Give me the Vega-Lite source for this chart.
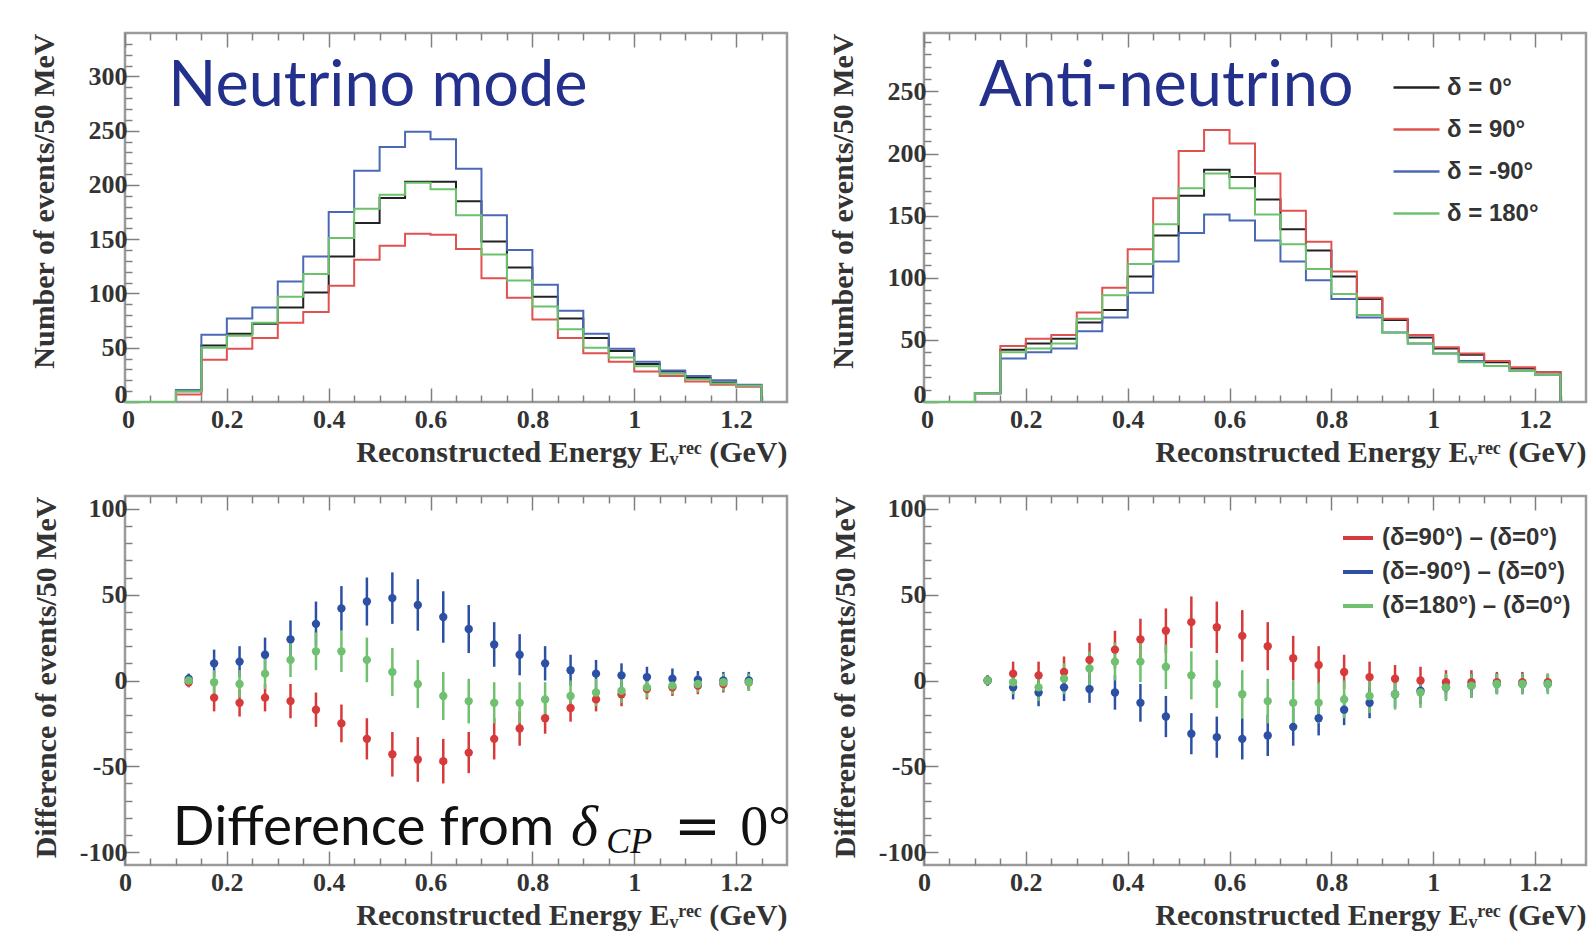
{
"$schema": "https://vega.github.io/schema/vega-lite/v6.json",
"background": "white",
"padding": {"left": 27, "top": 27, "right": 2, "bottom": 2},
"columns": 2,
"bounds": "flush",
"spacing": {"row": 94, "column": 137},
"resolve": {"scale": {"color": "independent", "fill": "independent"}, "legend": {"color": "independent", "fill": "independent"}},
"config": {
  "view": {"stroke": "#9a9a9a", "strokeWidth": 2.5},
  "axis": {"labelFont": "Liberation Serif", "labelFontWeight": "bold", "labelFontSize": 26, "labelColor": "#333", "titleFont": "Liberation Serif", "titleFontWeight": "bold", "titleFontSize": 30, "titleColor": "#333", "tickColor": "#808080", "tickWidth": 1.5, "domain": false, "grid": false, "labelFlush": false, "labelOverlap": false, "titleAnchor": "end"},
  "legend": {"labelFont": "Liberation Sans", "labelFontWeight": "bold", "labelColor": "#333", "labelLimit": 400}
},
"datasets": {
  "nu": [
    {"e":0,"d0":0,"d90":0,"dm90":0,"d180":0},
    {"e":0.05,"d0":0,"d90":0,"dm90":0,"d180":0},
    {"e":0.1,"d0":10,"d90":7,"dm90":11,"d180":10},
    {"e":0.15,"d0":52,"d90":39,"dm90":62,"d180":50},
    {"e":0.2,"d0":63,"d90":49,"dm90":77,"d180":61},
    {"e":0.25,"d0":72,"d90":59,"dm90":87,"d180":73},
    {"e":0.3,"d0":87,"d90":73,"dm90":111,"d180":97},
    {"e":0.35,"d0":101,"d90":83,"dm90":134,"d180":118},
    {"e":0.4,"d0":134,"d90":107,"dm90":175,"d180":151},
    {"e":0.45,"d0":165,"d90":131,"dm90":213,"d180":178},
    {"e":0.5,"d0":188,"d90":144,"dm90":235,"d180":191},
    {"e":0.55,"d0":203,"d90":155,"dm90":249,"d180":202},
    {"e":0.6,"d0":203,"d90":154,"dm90":242,"d180":196},
    {"e":0.65,"d0":185,"d90":141,"dm90":215,"d180":172},
    {"e":0.7,"d0":148,"d90":114,"dm90":172,"d180":136},
    {"e":0.75,"d0":124,"d90":96,"dm90":140,"d180":112},
    {"e":0.8,"d0":97,"d90":76,"dm90":108,"d180":88},
    {"e":0.85,"d0":77,"d90":59,"dm90":84,"d180":67},
    {"e":0.9,"d0":59,"d90":45,"dm90":63,"d180":50},
    {"e":0.95,"d0":47,"d90":37,"dm90":49,"d180":41},
    {"e":1,"d0":35,"d90":28,"dm90":37,"d180":33},
    {"e":1.05,"d0":28,"d90":24,"dm90":29,"d180":26},
    {"e":1.1,"d0":22,"d90":19,"dm90":24,"d180":21},
    {"e":1.15,"d0":18,"d90":16,"dm90":20,"d180":17},
    {"e":1.2,"d0":15,"d90":14,"dm90":16,"d180":15},
    {"e":1.25,"d0":0,"d90":0,"dm90":0,"d180":0}
  ],
  "anu": [
    {"e":0,"d0":0,"d90":0,"dm90":0,"d180":0},
    {"e":0.05,"d0":0,"d90":0,"dm90":0,"d180":0},
    {"e":0.1,"d0":7,"d90":7,"dm90":7,"d180":7},
    {"e":0.15,"d0":42,"d90":45,"dm90":35,"d180":40},
    {"e":0.2,"d0":47,"d90":51,"dm90":40,"d180":43},
    {"e":0.25,"d0":51,"d90":54,"dm90":43,"d180":47},
    {"e":0.3,"d0":64,"d90":72,"dm90":57,"d180":67},
    {"e":0.35,"d0":74,"d90":92,"dm90":68,"d180":86},
    {"e":0.4,"d0":101,"d90":123,"dm90":88,"d180":111},
    {"e":0.45,"d0":134,"d90":164,"dm90":113,"d180":143},
    {"e":0.5,"d0":166,"d90":202,"dm90":136,"d180":172},
    {"e":0.55,"d0":187,"d90":219,"dm90":151,"d180":184},
    {"e":0.6,"d0":181,"d90":208,"dm90":146,"d180":172},
    {"e":0.65,"d0":163,"d90":184,"dm90":130,"d180":151},
    {"e":0.7,"d0":139,"d90":154,"dm90":113,"d180":127},
    {"e":0.75,"d0":122,"d90":129,"dm90":98,"d180":107},
    {"e":0.8,"d0":101,"d90":105,"dm90":83,"d180":87},
    {"e":0.85,"d0":83,"d90":84,"dm90":68,"d180":70},
    {"e":0.9,"d0":66,"d90":67,"dm90":56,"d180":56},
    {"e":0.95,"d0":52,"d90":54,"dm90":47,"d180":47},
    {"e":1,"d0":43,"d90":44,"dm90":39,"d180":39},
    {"e":1.05,"d0":38,"d90":39,"dm90":33,"d180":32},
    {"e":1.1,"d0":32,"d90":33,"dm90":29,"d180":29},
    {"e":1.15,"d0":27,"d90":28,"dm90":25,"d180":25},
    {"e":1.2,"d0":24,"d90":24,"dm90":22,"d180":22},
    {"e":1.25,"d0":0,"d90":0,"dm90":0,"d180":0}
  ],
  "dnu": [
    {"e":0.125,"s":"r","v":-1,"err":3},{"e":0.125,"s":"b","v":1,"err":3},{"e":0.125,"s":"g","v":0,"err":3},
    {"e":0.175,"s":"r","v":-10,"err":8},{"e":0.175,"s":"b","v":10,"err":8},{"e":0.175,"s":"g","v":-1,"err":7},
    {"e":0.225,"s":"r","v":-13,"err":8},{"e":0.225,"s":"b","v":11,"err":9},{"e":0.225,"s":"g","v":-2,"err":8},
    {"e":0.275,"s":"r","v":-10,"err":8},{"e":0.275,"s":"b","v":15,"err":10},{"e":0.275,"s":"g","v":4,"err":9},
    {"e":0.325,"s":"r","v":-12,"err":10},{"e":0.325,"s":"b","v":24,"err":11},{"e":0.325,"s":"g","v":12,"err":10},
    {"e":0.375,"s":"r","v":-17,"err":10},{"e":0.375,"s":"b","v":33,"err":13},{"e":0.375,"s":"g","v":17,"err":11},
    {"e":0.425,"s":"r","v":-25,"err":11},{"e":0.425,"s":"b","v":42,"err":13},{"e":0.425,"s":"g","v":17,"err":12},
    {"e":0.475,"s":"r","v":-34,"err":12},{"e":0.475,"s":"b","v":46,"err":14},{"e":0.475,"s":"g","v":12,"err":13},
    {"e":0.525,"s":"r","v":-43,"err":13},{"e":0.525,"s":"b","v":48,"err":15},{"e":0.525,"s":"g","v":5,"err":14},
    {"e":0.575,"s":"r","v":-46,"err":13},{"e":0.575,"s":"b","v":44,"err":15},{"e":0.575,"s":"g","v":-2,"err":14},
    {"e":0.625,"s":"r","v":-47,"err":13},{"e":0.625,"s":"b","v":37,"err":15},{"e":0.625,"s":"g","v":-9,"err":14},
    {"e":0.675,"s":"r","v":-42,"err":12},{"e":0.675,"s":"b","v":30,"err":14},{"e":0.675,"s":"g","v":-12,"err":13},
    {"e":0.725,"s":"r","v":-34,"err":12},{"e":0.725,"s":"b","v":21,"err":13},{"e":0.725,"s":"g","v":-13,"err":12},
    {"e":0.775,"s":"r","v":-28,"err":10},{"e":0.775,"s":"b","v":15,"err":12},{"e":0.775,"s":"g","v":-13,"err":12},
    {"e":0.825,"s":"r","v":-22,"err":9},{"e":0.825,"s":"b","v":10,"err":10},{"e":0.825,"s":"g","v":-11,"err":10},
    {"e":0.875,"s":"r","v":-16,"err":8},{"e":0.875,"s":"b","v":6,"err":9},{"e":0.875,"s":"g","v":-9,"err":9},
    {"e":0.925,"s":"r","v":-11,"err":7},{"e":0.925,"s":"b","v":4,"err":8},{"e":0.925,"s":"g","v":-7,"err":8},
    {"e":0.975,"s":"r","v":-8,"err":7},{"e":0.975,"s":"b","v":3,"err":7},{"e":0.975,"s":"g","v":-6,"err":7},
    {"e":1.025,"s":"r","v":-5,"err":6},{"e":1.025,"s":"b","v":2,"err":6},{"e":1.025,"s":"g","v":-4,"err":6},
    {"e":1.075,"s":"r","v":-4,"err":5},{"e":1.075,"s":"b","v":1,"err":6},{"e":1.075,"s":"g","v":-3,"err":5},
    {"e":1.125,"s":"r","v":-3,"err":5},{"e":1.125,"s":"b","v":0.5,"err":5},{"e":1.125,"s":"g","v":-2,"err":5},
    {"e":1.175,"s":"r","v":-2,"err":5},{"e":1.175,"s":"b","v":0,"err":5},{"e":1.175,"s":"g","v":-1,"err":5},
    {"e":1.225,"s":"r","v":-1,"err":5},{"e":1.225,"s":"b","v":0,"err":5},{"e":1.225,"s":"g","v":-1,"err":5}
  ],
  "danu": [
    {"e":0.125,"s":"r","v":0,"err":3},{"e":0.125,"s":"b","v":0,"err":3},{"e":0.125,"s":"g","v":0,"err":3},
    {"e":0.175,"s":"r","v":4,"err":7},{"e":0.175,"s":"b","v":-4,"err":7},{"e":0.175,"s":"g","v":-1,"err":7},
    {"e":0.225,"s":"r","v":3,"err":8},{"e":0.225,"s":"b","v":-7,"err":8},{"e":0.225,"s":"g","v":-4,"err":8},
    {"e":0.275,"s":"r","v":5,"err":9},{"e":0.275,"s":"b","v":-4,"err":8},{"e":0.275,"s":"g","v":1,"err":9},
    {"e":0.325,"s":"r","v":12,"err":10},{"e":0.325,"s":"b","v":-5,"err":8},{"e":0.325,"s":"g","v":7,"err":10},
    {"e":0.375,"s":"r","v":18,"err":11},{"e":0.375,"s":"b","v":-7,"err":10},{"e":0.375,"s":"g","v":11,"err":11},
    {"e":0.425,"s":"r","v":24,"err":12},{"e":0.425,"s":"b","v":-13,"err":11},{"e":0.425,"s":"g","v":11,"err":12},
    {"e":0.475,"s":"r","v":29,"err":13},{"e":0.475,"s":"b","v":-21,"err":12},{"e":0.475,"s":"g","v":8,"err":13},
    {"e":0.525,"s":"r","v":34,"err":15},{"e":0.525,"s":"b","v":-31,"err":12},{"e":0.525,"s":"g","v":3,"err":14},
    {"e":0.575,"s":"r","v":31,"err":15},{"e":0.575,"s":"b","v":-33,"err":12},{"e":0.575,"s":"g","v":-2,"err":14},
    {"e":0.625,"s":"r","v":26,"err":15},{"e":0.625,"s":"b","v":-34,"err":12},{"e":0.625,"s":"g","v":-8,"err":14},
    {"e":0.675,"s":"r","v":20,"err":14},{"e":0.675,"s":"b","v":-32,"err":12},{"e":0.675,"s":"g","v":-12,"err":13},
    {"e":0.725,"s":"r","v":13,"err":13},{"e":0.725,"s":"b","v":-27,"err":11},{"e":0.725,"s":"g","v":-13,"err":13},
    {"e":0.775,"s":"r","v":9,"err":11},{"e":0.775,"s":"b","v":-22,"err":10},{"e":0.775,"s":"g","v":-13,"err":12},
    {"e":0.825,"s":"r","v":5,"err":10},{"e":0.825,"s":"b","v":-17,"err":9},{"e":0.825,"s":"g","v":-11,"err":11},
    {"e":0.875,"s":"r","v":2,"err":9},{"e":0.875,"s":"b","v":-13,"err":9},{"e":0.875,"s":"g","v":-9,"err":10},
    {"e":0.925,"s":"r","v":1,"err":8},{"e":0.925,"s":"b","v":-8,"err":8},{"e":0.925,"s":"g","v":-8,"err":9},
    {"e":0.975,"s":"r","v":0,"err":8},{"e":0.975,"s":"b","v":-6,"err":8},{"e":0.975,"s":"g","v":-7,"err":9},
    {"e":1.025,"s":"r","v":-1,"err":7},{"e":1.025,"s":"b","v":-4,"err":7},{"e":1.025,"s":"g","v":-4,"err":8},
    {"e":1.075,"s":"r","v":-1,"err":7},{"e":1.075,"s":"b","v":-3,"err":7},{"e":1.075,"s":"g","v":-3,"err":7},
    {"e":1.125,"s":"r","v":-1,"err":6},{"e":1.125,"s":"b","v":-2,"err":6},{"e":1.125,"s":"g","v":-2,"err":6},
    {"e":1.175,"s":"r","v":-1,"err":6},{"e":1.175,"s":"b","v":-2,"err":6},{"e":1.175,"s":"g","v":-2,"err":6},
    {"e":1.225,"s":"r","v":-1,"err":5},{"e":1.225,"s":"b","v":-2,"err":5},{"e":1.225,"s":"g","v":-2,"err":6}
  ]
},
"concat": [
  {
    "width": 662, "height": 369,
    "data": {"name": "nu"},
    "transform": [{"fold": ["d0", "d90", "dm90", "d180"], "as": ["s", "n"]}],
    "layer": [
      {"mark": {"type": "line", "interpolate": "step-after", "strokeWidth": 2},
       "encoding": {
         "x": {"field": "e", "type": "quantitative", "scale": {"domain": [0, 1.3], "nice": false, "zero": false},
               "axis": {"orient": "bottom", "values": [0,0.05,0.1,0.15,0.2,0.25,0.3,0.35,0.4,0.45,0.5,0.55,0.6,0.65,0.7,0.75,0.8,0.85,0.9,0.95,1,1.05,1.1,1.15,1.2,1.25],
                        "labelExpr": "abs(datum.value*5-round(datum.value*5))<0.001 ? ''+round(datum.value*10)/10 : ''",
                        "tickSize": {"condition": {"test": "abs(datum.value*5-round(datum.value*5))<0.001", "value": -14}, "value": -7},
                        "labelOffset": {"condition": {"test": "datum.value == 0", "value": 3}, "value": 0},
                        "labelPadding": 18, "title": "Reconstructed Energy Eᵥʳᵉᶜ (GeV)", "titlePadding": -2}},
         "y": {"field": "n", "type": "quantitative", "scale": {"domain": [0, 340], "nice": false, "zero": false},
               "axis": {"orient": "left", "values": [0,10,20,30,40,50,60,70,80,90,100,110,120,130,140,150,160,170,180,190,200,210,220,230,240,250,260,270,280,290,300,310,320,330],
                        "labelExpr": "datum.value % 50 == 0 ? ''+datum.value : ''",
                        "tickSize": {"condition": {"test": "datum.value % 50 == 0", "value": -14}, "value": -7},
                        "labelOffset": {"condition": {"test": "datum.value == 0", "value": -8}, "value": 0},
                        "labelPadding": 12, "title": "Number of events/50 MeV", "titlePadding": 29}},
         "color": {"field": "s", "type": "nominal", "scale": {"domain": ["d0", "d90", "dm90", "d180"], "range": ["#222222", "#e0524f", "#4a68b5", "#6cc26c"]}, "legend": null}
       }},
      {"mark": {"type": "point", "opacity": 0},
       "encoding": {
         "x": {"field": "e", "type": "quantitative", "axis": {"orient": "top", "values": [0,0.05,0.1,0.15,0.2,0.25,0.3,0.35,0.4,0.45,0.5,0.55,0.6,0.65,0.7,0.75,0.8,0.85,0.9,0.95,1,1.05,1.1,1.15,1.2,1.25], "labels": false, "title": null,
                  "tickSize": {"condition": {"test": "abs(datum.value*5-round(datum.value*5))<0.001", "value": -14}, "value": -7}}},
         "y": {"field": "n", "type": "quantitative", "axis": null}
       }},
      {"data": {"values": [{}]},
       "mark": {"type": "text", "text": "Neutrino mode", "font": "Lato", "fontSize": 63, "color": "#23318c", "align": "left", "baseline": "alphabetic"},
       "encoding": {"x": {"datum": 0.085, "type": "quantitative", "axis": null}, "y": {"datum": 272.7, "type": "quantitative", "axis": null}}}
    ],
    "resolve": {"axis": {"x": "independent", "y": "independent"}}
  },
  {
    "width": 662, "height": 369,
    "data": {"name": "anu"},
    "transform": [{"fold": ["d0", "d90", "dm90", "d180"], "as": ["s", "n"]}],
    "layer": [
      {"mark": {"type": "line", "interpolate": "step-after", "strokeWidth": 2},
       "encoding": {
         "x": {"field": "e", "type": "quantitative", "scale": {"domain": [0, 1.3], "nice": false, "zero": false},
               "axis": {"orient": "bottom", "values": [0,0.05,0.1,0.15,0.2,0.25,0.3,0.35,0.4,0.45,0.5,0.55,0.6,0.65,0.7,0.75,0.8,0.85,0.9,0.95,1,1.05,1.1,1.15,1.2,1.25],
                        "labelExpr": "abs(datum.value*5-round(datum.value*5))<0.001 ? ''+round(datum.value*10)/10 : ''",
                        "tickSize": {"condition": {"test": "abs(datum.value*5-round(datum.value*5))<0.001", "value": -14}, "value": -7},
                        "labelOffset": {"condition": {"test": "datum.value == 0", "value": 3}, "value": 0},
                        "labelPadding": 18, "title": "Reconstructed Energy Eᵥʳᵉᶜ (GeV)", "titlePadding": -2}},
         "y": {"field": "n", "type": "quantitative", "scale": {"domain": [0, 297], "nice": false, "zero": false},
               "axis": {"orient": "left", "values": [0,10,20,30,40,50,60,70,80,90,100,110,120,130,140,150,160,170,180,190,200,210,220,230,240,250,260,270,280,290],
                        "labelExpr": "datum.value % 50 == 0 ? ''+datum.value : ''",
                        "tickSize": {"condition": {"test": "datum.value % 50 == 0", "value": -14}, "value": -7},
                        "labelOffset": {"condition": {"test": "datum.value == 0", "value": -8}, "value": 0},
                        "labelPadding": 12, "title": "Number of events/50 MeV", "titlePadding": 29}},
         "color": {"field": "s", "type": "nominal", "scale": {"domain": ["d0", "d90", "dm90", "d180"], "range": ["#222222", "#e0524f", "#4a68b5", "#6cc26c"]},
                   "legend": {"orient": "none", "legendX": 468, "legendY": 30, "title": null, "symbolType": "stroke", "symbolSize": 2116, "symbolStrokeWidth": 2.5, "labelFontSize": 24, "labelOffset": 6, "rowPadding": 5, "padding": 0,
                              "labelExpr": "datum.label == 'd0' ? 'δ = 0°' : datum.label == 'd90' ? 'δ = 90°' : datum.label == 'dm90' ? 'δ = -90°' : 'δ = 180°'"}}
       }},
      {"mark": {"type": "point", "opacity": 0},
       "encoding": {
         "x": {"field": "e", "type": "quantitative", "axis": {"orient": "top", "values": [0,0.05,0.1,0.15,0.2,0.25,0.3,0.35,0.4,0.45,0.5,0.55,0.6,0.65,0.7,0.75,0.8,0.85,0.9,0.95,1,1.05,1.1,1.15,1.2,1.25], "labels": false, "title": null,
                  "tickSize": {"condition": {"test": "abs(datum.value*5-round(datum.value*5))<0.001", "value": -14}, "value": -7}}},
         "y": {"field": "n", "type": "quantitative", "axis": null}
       }},
      {"data": {"values": [{}]},
       "mark": {"type": "text", "text": "Anti-neutrino", "font": "Lato", "fontSize": 63, "color": "#23318c", "align": "left", "baseline": "alphabetic"},
       "encoding": {"x": {"datum": 0.108, "type": "quantitative", "axis": null}, "y": {"datum": 238, "type": "quantitative", "axis": null}}}
    ],
    "resolve": {"axis": {"x": "independent", "y": "independent"}}
  },
  {
    "width": 662, "height": 369,
    "data": {"name": "dnu"},
    "layer": [
      {"mark": {"type": "errorbar", "thickness": 2.5},
       "encoding": {
         "x": {"field": "e", "type": "quantitative", "scale": {"domain": [0, 1.3], "nice": false, "zero": false}, "axis": null},
         "y": {"field": "v", "type": "quantitative", "scale": {"domain": [-107.5, 107.5], "nice": false, "zero": false}, "axis": null},
         "yError": {"field": "err"},
         "color": {"field": "s", "type": "nominal", "scale": {"domain": ["r", "b", "g"], "range": ["#d63a3a", "#2c50a4", "#6fc06f"]}, "legend": null}
       }},
      {"mark": {"type": "point", "filled": true, "size": 70, "opacity": 1},
       "encoding": {
         "x": {"field": "e", "type": "quantitative",
               "axis": {"orient": "bottom", "values": [0,0.05,0.1,0.15,0.2,0.25,0.3,0.35,0.4,0.45,0.5,0.55,0.6,0.65,0.7,0.75,0.8,0.85,0.9,0.95,1,1.05,1.1,1.15,1.2,1.25],
                        "labelExpr": "abs(datum.value*5-round(datum.value*5))<0.001 ? ''+round(datum.value*10)/10 : ''",
                        "tickSize": {"condition": {"test": "abs(datum.value*5-round(datum.value*5))<0.001", "value": -14}, "value": -7},
                        "labelPadding": 18, "title": "Reconstructed Energy Eᵥʳᵉᶜ (GeV)", "titlePadding": -2}},
         "y": {"field": "v", "type": "quantitative",
               "axis": {"orient": "left", "values": [-100,-90,-80,-70,-60,-50,-40,-30,-20,-10,0,10,20,30,40,50,60,70,80,90,100],
                        "labelExpr": "datum.value % 50 == 0 ? ''+datum.value : ''",
                        "tickSize": {"condition": {"test": "datum.value % 50 == 0", "value": -14}, "value": -7},
                        "labelPadding": 12, "title": "Difference of events/50 MeV", "titlePadding": 18}},
         "fill": {"field": "s", "type": "nominal", "scale": {"domain": ["r", "b", "g"], "range": ["#d63a3a", "#2c50a4", "#6fc06f"]}, "legend": null}
       }},
      {"mark": {"type": "point", "opacity": 0},
       "encoding": {
         "x": {"field": "e", "type": "quantitative", "axis": {"orient": "top", "values": [0,0.05,0.1,0.15,0.2,0.25,0.3,0.35,0.4,0.45,0.5,0.55,0.6,0.65,0.7,0.75,0.8,0.85,0.9,0.95,1,1.05,1.1,1.15,1.2,1.25], "labels": false, "title": null,
                  "tickSize": {"condition": {"test": "abs(datum.value*5-round(datum.value*5))<0.001", "value": -14}, "value": -7}}},
         "y": {"field": "v", "type": "quantitative", "axis": null}
       }},
      {"data": {"values": [{}]},
       "mark": {"type": "text", "text": "Difference from", "font": "Lato", "fontSize": 55, "color": "#111111", "align": "left", "baseline": "alphabetic"},
       "encoding": {"x": {"datum": 0.094, "type": "quantitative", "axis": null}, "y": {"datum": -95.9, "type": "quantitative", "axis": null}}},
      {"data": {"values": [{}]},
       "mark": {"type": "text", "text": "δ", "font": "Liberation Serif", "fontStyle": "italic", "fontSize": 58, "color": "#111111", "align": "left", "baseline": "alphabetic"},
       "encoding": {"x": {"datum": 0.876, "type": "quantitative", "axis": null}, "y": {"datum": -95.9, "type": "quantitative", "axis": null}}},
      {"data": {"values": [{}]},
       "mark": {"type": "text", "text": "CP", "font": "Liberation Serif", "fontStyle": "italic", "fontSize": 36, "color": "#111111", "align": "left", "baseline": "alphabetic"},
       "encoding": {"x": {"datum": 0.945, "type": "quantitative", "axis": null}, "y": {"datum": -100.5, "type": "quantitative", "axis": null}}},
      {"data": {"values": [{}]},
       "mark": {"type": "text", "text": "=", "font": "DejaVu Sans", "fontSize": 56, "color": "#111111", "align": "left", "baseline": "alphabetic"},
       "encoding": {"x": {"datum": 1.078, "type": "quantitative", "axis": null}, "y": {"datum": -95.9, "type": "quantitative", "axis": null}}},
      {"data": {"values": [{}]},
       "mark": {"type": "text", "text": "0°", "font": "Liberation Serif", "fontSize": 56, "color": "#111111", "align": "left", "baseline": "alphabetic"},
       "encoding": {"x": {"datum": 1.208, "type": "quantitative", "axis": null}, "y": {"datum": -95.9, "type": "quantitative", "axis": null}}}
    ],
    "resolve": {"axis": {"x": "independent", "y": "independent"}}
  },
  {
    "width": 662, "height": 369,
    "data": {"name": "danu"},
    "layer": [
      {"mark": {"type": "errorbar", "thickness": 2.5},
       "encoding": {
         "x": {"field": "e", "type": "quantitative", "scale": {"domain": [0, 1.3], "nice": false, "zero": false}, "axis": null},
         "y": {"field": "v", "type": "quantitative", "scale": {"domain": [-107.5, 107.5], "nice": false, "zero": false}, "axis": null},
         "yError": {"field": "err"},
         "color": {"field": "s", "type": "nominal", "scale": {"domain": ["r", "b", "g"], "range": ["#d63a3a", "#2c50a4", "#6fc06f"]},
                   "legend": {"orient": "none", "legendX": 417, "legendY": 25, "title": null, "symbolType": "stroke", "symbolSize": 900, "symbolStrokeWidth": 4, "labelFontSize": 24, "labelOffset": 7, "rowPadding": 5, "padding": 0, "labelLimit": 400,
                              "labelExpr": "datum.label == 'r' ? '(δ=90°) – (δ=0°)' : datum.label == 'b' ? '(δ=-90°) – (δ=0°)' : '(δ=180°) – (δ=0°)'"}}
       }},
      {"mark": {"type": "point", "filled": true, "size": 70, "opacity": 1},
       "encoding": {
         "x": {"field": "e", "type": "quantitative",
               "axis": {"orient": "bottom", "values": [0,0.05,0.1,0.15,0.2,0.25,0.3,0.35,0.4,0.45,0.5,0.55,0.6,0.65,0.7,0.75,0.8,0.85,0.9,0.95,1,1.05,1.1,1.15,1.2,1.25],
                        "labelExpr": "abs(datum.value*5-round(datum.value*5))<0.001 ? ''+round(datum.value*10)/10 : ''",
                        "tickSize": {"condition": {"test": "abs(datum.value*5-round(datum.value*5))<0.001", "value": -14}, "value": -7},
                        "labelPadding": 18, "title": "Reconstructed Energy Eᵥʳᵉᶜ (GeV)", "titlePadding": -2}},
         "y": {"field": "v", "type": "quantitative",
               "axis": {"orient": "left", "values": [-100,-90,-80,-70,-60,-50,-40,-30,-20,-10,0,10,20,30,40,50,60,70,80,90,100],
                        "labelExpr": "datum.value % 50 == 0 ? ''+datum.value : ''",
                        "tickSize": {"condition": {"test": "datum.value % 50 == 0", "value": -14}, "value": -7},
                        "labelPadding": 12, "title": "Difference of events/50 MeV", "titlePadding": 18}},
         "fill": {"field": "s", "type": "nominal", "scale": {"domain": ["r", "b", "g"], "range": ["#d63a3a", "#2c50a4", "#6fc06f"]}, "legend": null}
       }},
      {"mark": {"type": "point", "opacity": 0},
       "encoding": {
         "x": {"field": "e", "type": "quantitative", "axis": {"orient": "top", "values": [0,0.05,0.1,0.15,0.2,0.25,0.3,0.35,0.4,0.45,0.5,0.55,0.6,0.65,0.7,0.75,0.8,0.85,0.9,0.95,1,1.05,1.1,1.15,1.2,1.25], "labels": false, "title": null,
                  "tickSize": {"condition": {"test": "abs(datum.value*5-round(datum.value*5))<0.001", "value": -14}, "value": -7}}},
         "y": {"field": "v", "type": "quantitative", "axis": null}
       }}
    ],
    "resolve": {"axis": {"x": "independent", "y": "independent"}}
  }
]
}
